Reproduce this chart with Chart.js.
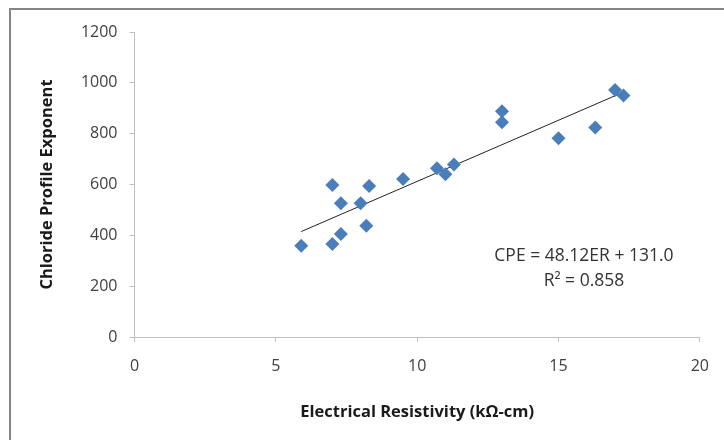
<!DOCTYPE html>
<html>
<head>
<meta charset="utf-8">
<script src="https://cdn.jsdelivr.net/npm/chart.js@4/dist/chart.umd.min.js"></script>
<style>
  html, body { margin: 0; padding: 0; background: #fff; }
  #wrap { width: 724px; height: 440px; }
</style>
</head>
<body>
<div id="wrap"><canvas id="chartCpe" width="724" height="440"></canvas></div>
<script>
// electrical resistivity (kOhm-cm) vs chloride profile exponent
const resistivity = [5.9, 7.0, 7.0, 7.3, 7.3, 8.0, 8.2, 8.3, 9.5, 10.7, 11.0, 11.3, 13.0, 13.0, 15.0, 16.3, 17.0, 17.3];
const cpe = [359, 598, 366, 526, 405, 526, 438, 594, 622, 664, 640, 679, 888, 845, 782, 824, 972, 950];

// fitted line  CPE = 48.12ER + 131.0
const slope = 48.12;
const intercept = 131.0;
const rSquared = 0.858;

const xTicks = [0, 5, 10, 15, 20];
const yTicks = [0, 200, 400, 600, 800, 1000, 1200];

const points = resistivity.map((x, i) => ({ x, y: cpe[i] }));
const xMin = Math.min(...resistivity);
const xMax = Math.max(...resistivity);
const fitLine = [xMin, xMax].map(x => ({ x, y: slope * x + intercept }));

const FONT = '"Open Sans", "Noto Sans", sans-serif';
const AXIS_GRAY = '#bfbfbf';

// outer frame + equation text
const extras = {
  id: 'extras',
  beforeDraw(chart) {
    const ctx = chart.ctx;
    ctx.save();
    ctx.strokeStyle = '#858585';
    ctx.lineWidth = 2;
    ctx.beginPath();
    ctx.moveTo(10, 440);
    ctx.lineTo(10, 9);
    ctx.lineTo(724, 9);
    ctx.stroke();
    ctx.restore();
  },
  afterDraw(chart) {
    const ctx = chart.ctx;
    const xs = chart.scales.x, ys = chart.scales.y;
    ctx.save();
    ctx.fillStyle = '#333';
    ctx.font = '17.5px ' + FONT;
    ctx.textAlign = 'center';
    ctx.textBaseline = 'middle';
    const cx = xs.getPixelForValue(15.9);
    ctx.fillText('CPE = ' + slope.toFixed(2) + 'ER + ' + intercept.toFixed(1), cx, ys.getPixelForValue(320));
    ctx.fillText('R² = ' + rSquared.toFixed(3), cx, ys.getPixelForValue(222));
    ctx.restore();
  }
};

new Chart(document.getElementById('chartCpe'), {
  type: 'scatter',
  data: {
    datasets: [
      {
        label: 'CPE',
        data: points,
        pointStyle: 'rectRot',
        pointRadius: 7,
        pointHoverRadius: 7,
        backgroundColor: '#4a7ebb',
        borderColor: '#4a7ebb',
        borderWidth: 0
      },
      {
        label: 'Linear fit',
        data: fitLine,
        showLine: true,
        pointRadius: 0,
        borderColor: '#222',
        borderWidth: 1
      }
    ]
  },
  options: {
    responsive: false,
    animation: false,
    layout: { padding: { top: 32, right: 20.5, bottom: 0, left: 0 } },
    plugins: { legend: { display: false }, tooltip: { enabled: false } },
    scales: {
      x: {
        type: 'linear',
        min: 0, max: 20,
        afterBuildTicks: s => { s.ticks = xTicks.map(v => ({ value: v })); },
        afterFit: s => { s.height = 103; },
        border: { color: AXIS_GRAY, width: 1 },
        grid: { drawOnChartArea: false, color: AXIS_GRAY, tickLength: 5 },
        ticks: {
          color: '#404040', font: { family: FONT, size: 16 }, padding: 15, maxRotation: 0,
          callback: v => String(v)
        },
        title: {
          display: true,
          text: 'Electrical Resistivity (kΩ-cm)',
          color: '#1a1a1a',
          font: { family: FONT, size: 16.5, weight: 'bold' },
          padding: { top: 0, bottom: 18 }
        }
      },
      y: {
        type: 'linear',
        min: 0, max: 1200,
        afterBuildTicks: s => { s.ticks = yTicks.map(v => ({ value: v })); },
        afterFit: s => { s.width = 134.5; },
        border: { color: AXIS_GRAY, width: 1 },
        grid: { drawOnChartArea: false, color: AXIS_GRAY, tickLength: 5 },
        ticks: {
          color: '#404040', font: { family: FONT, size: 16 }, padding: 12,
          callback: v => String(v)
        },
        title: {
          display: true,
          text: 'Chloride Profile Exponent',
          color: '#1a1a1a',
          font: { family: FONT, size: 16.5, weight: 'bold' },
          padding: { top: 37, bottom: 0 }
        }
      }
    }
  },
  plugins: [extras]
});
</script>
</body>
</html>
